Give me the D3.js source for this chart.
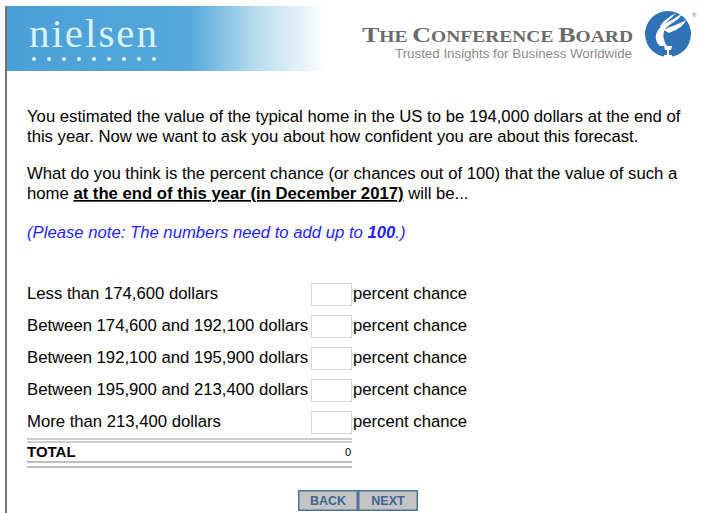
<!DOCTYPE html>
<html>
<head>
<meta charset="utf-8">
<script src="https://cdn.jsdelivr.net/npm/d3@7"></script>
<style>
  html, body { margin: 0; padding: 0; background: #fff; }
  svg { display: block; font-family: "Liberation Sans", Arial, sans-serif; }
</style>
</head>
<body>
<svg id="page" width="708" height="513"></svg>
<script>
// survey content
var introLines = [
    "You estimated the value of the typical home in the US to be 194,000 dollars at the end of",
    "this year. Now we want to ask you about how confident you are about this forecast."
];
var rangeLabels = [
    "Less than 174,600 dollars",
    "Between 174,600 and 192,100 dollars",
    "Between 192,100 and 195,900 dollars",
    "Between 195,900 and 213,400 dollars",
    "More than 213,400 dollars"
];
var answers = [null, null, null, null, null];
var buttonLabels = ["BACK", "NEXT"];

var svg = d3.select("#page");
var fs = "16.7px";

// header: nielsen band with gradient
var defs = svg.append("defs");
var grad = defs.append("linearGradient").attr("id", "band").attr("x1", 0).attr("x2", 1);
grad.append("stop").attr("offset", "0%").attr("stop-color", "#4b9fd7");
grad.append("stop").attr("offset", "57%").attr("stop-color", "#55a8da");
grad.append("stop").attr("offset", "78%").attr("stop-color", "#b8ddef");
grad.append("stop").attr("offset", "100%").attr("stop-color", "#ffffff");

svg.append("rect").attr("x", 7).attr("y", 6).attr("width", 320).attr("height", 65)
    .attr("fill", "url(#band)");
svg.append("line").attr("x1", 6).attr("x2", 6).attr("y1", 6).attr("y2", 513)
    .attr("stroke", "#444").attr("stroke-width", 1.5);

svg.append("text").attr("x", 29).attr("y", 47)
    .style("font-family", "'Liberation Serif', 'DejaVu Serif', serif")
    .style("font-size", "41px").attr("fill", "#d8f2f6").attr("textLength", 128)
    .text("nielsen");

var dotX = d3.scalePoint().domain(d3.range(9)).range([34, 154]);
svg.selectAll("circle.dot").data(d3.range(9)).enter().append("circle")
    .attr("class", "dot").attr("cx", function (d) { return dotX(d); }).attr("cy", 59)
    .attr("r", 2).attr("fill", "#e2f5f8");

// conference board logo
var cb = svg.append("g");
cb.append("text").attr("x", 362).attr("y", 42)
    .style("font-family", "'Liberation Serif', 'DejaVu Serif', serif")
    .style("font-weight", "bold").attr("fill", "#6b6b6b")
    .attr("textLength", 271).attr("lengthAdjust", "spacingAndGlyphs")
    .call(function (t) {
        [["T", 22], ["HE ", 16.5], ["C", 22], ["ONFERENCE ", 16.5], ["B", 22], ["OARD", 16.5]]
            .forEach(function (p) { t.append("tspan").style("font-size", p[1] + "px").text(p[0]); });
    });
cb.append("text").attr("x", 632).attr("y", 58).attr("text-anchor", "end")
    .style("font-size", "12px").attr("fill", "#8a8a8a")
    .attr("textLength", 237).attr("lengthAdjust", "spacingAndGlyphs")
    .text("Trusted Insights for Business Worldwide");

cb.append("circle").attr("cx", 668).attr("cy", 34).attr("r", 23).attr("fill", "#2f72b6");
cb.append("path").attr("fill", "#fff")
    .attr("d", "M660,46 C652,38 656,28 668,22 C674,19 680,15 683,12 C680,20 672,22 666,28 C662,33 663,40 667,46 Z");
cb.append("path").attr("fill", "#fff")
    .attr("d", "M664,30 C670,26 678,25 686,20 C683,27 676,30 669,33 Z");
cb.append("path").attr("fill", "#fff")
    .attr("d", "M660,26 C664,20 670,16 676,13 C672,18 666,22 662,27 Z");
cb.append("path").attr("fill", "#fff")
    .attr("d", "M664,46 L672,46 L671,50 L669,50 L669,55 L672,55 L672,57 L664,57 L664,55 L667,55 L667,50 L665,50 Z");
cb.append("text").attr("x", 692).attr("y", 17).style("font-size", "6px").attr("fill", "#2f72b6").text("®");

// question text
var body = svg.append("g").style("font-size", fs).attr("fill", "#000");
body.selectAll("text.intro").data(introLines).enter().append("text")
    .attr("class", "intro").attr("x", 27).attr("y", function (d, i) { return 122 + i * 20; })
    .text(function (d) { return d; });

body.append("text").attr("x", 27).attr("y", 179)
    .text("What do you think is the percent chance (or chances out of 100) that the value of such a");
var q2 = body.append("text").attr("x", 27).attr("y", 199);
q2.append("tspan").text("home ");
q2.append("tspan").style("font-weight", "bold").style("text-decoration", "underline")
    .text("at the end of this year (in December 2017)");
q2.append("tspan").text(" will be...");

var note = body.append("text").attr("x", 27).attr("y", 238).attr("fill", "#1f1fff")
    .style("font-style", "italic");
note.append("tspan").text("(Please note: The numbers need to add up to ");
note.append("tspan").style("font-weight", "bold").text("100");
note.append("tspan").text(".)");

// answer grid
var y = d3.scaleBand().domain(d3.range(rangeLabels.length)).range([278, 438]).paddingInner(0);
var rows = svg.selectAll("g.row").data(rangeLabels).enter().append("g")
    .attr("class", "row")
    .attr("transform", function (d, i) { return "translate(0," + y(i) + ")"; });

rows.append("text").attr("x", 27).attr("y", 21).style("font-size", fs)
    .text(function (d) { return d; });
rows.append("rect").attr("x", 311.5).attr("y", 5.5).attr("width", 40).attr("height", 22)
    .attr("fill", "#fff").attr("stroke", "#d6d6d6");
rows.append("text").attr("x", 353).attr("y", 21).style("font-size", fs)
    .text("percent chance");

var total = d3.sum(answers, function (d) { return d || 0; });

[439, 442].forEach(function (yy) {
    svg.append("line").attr("x1", 27).attr("x2", 352).attr("y1", yy).attr("y2", yy)
        .attr("stroke", "#bdbdbd").attr("stroke-width", 1.5);
});
svg.append("text").attr("x", 27).attr("y", 457).style("font-size", "15px")
    .style("font-weight", "bold").text("TOTAL");
svg.append("text").attr("x", 351).attr("y", 456).attr("text-anchor", "end")
    .style("font-size", "11px").attr("fill", "#000").text(total);
[462, 467].forEach(function (yy) {
    svg.append("line").attr("x1", 27).attr("x2", 352).attr("y1", yy).attr("y2", yy)
        .attr("stroke", "#bdbdbd").attr("stroke-width", 2);
});

// navigation buttons
var bx = d3.scaleBand().domain(buttonLabels).range([298, 418]);
var btn = svg.selectAll("g.btn").data(buttonLabels).enter().append("g")
    .attr("class", "btn").attr("transform", function (d) { return "translate(" + bx(d) + ",490)"; });
btn.append("rect").attr("x", 0.75).attr("y", 0.75).attr("width", bx.bandwidth() - 1.5).attr("height", 19.5)
    .attr("fill", "#c4c4c4").attr("stroke", "#4f7499").attr("stroke-width", 1.5);
btn.append("text").attr("x", bx.bandwidth() / 2).attr("y", 15).attr("text-anchor", "middle")
    .style("font-size", "12.5px").style("font-weight", "bold").attr("fill", "#3d6590")
    .text(function (d) { return d; });
</script>
</body>
</html>
